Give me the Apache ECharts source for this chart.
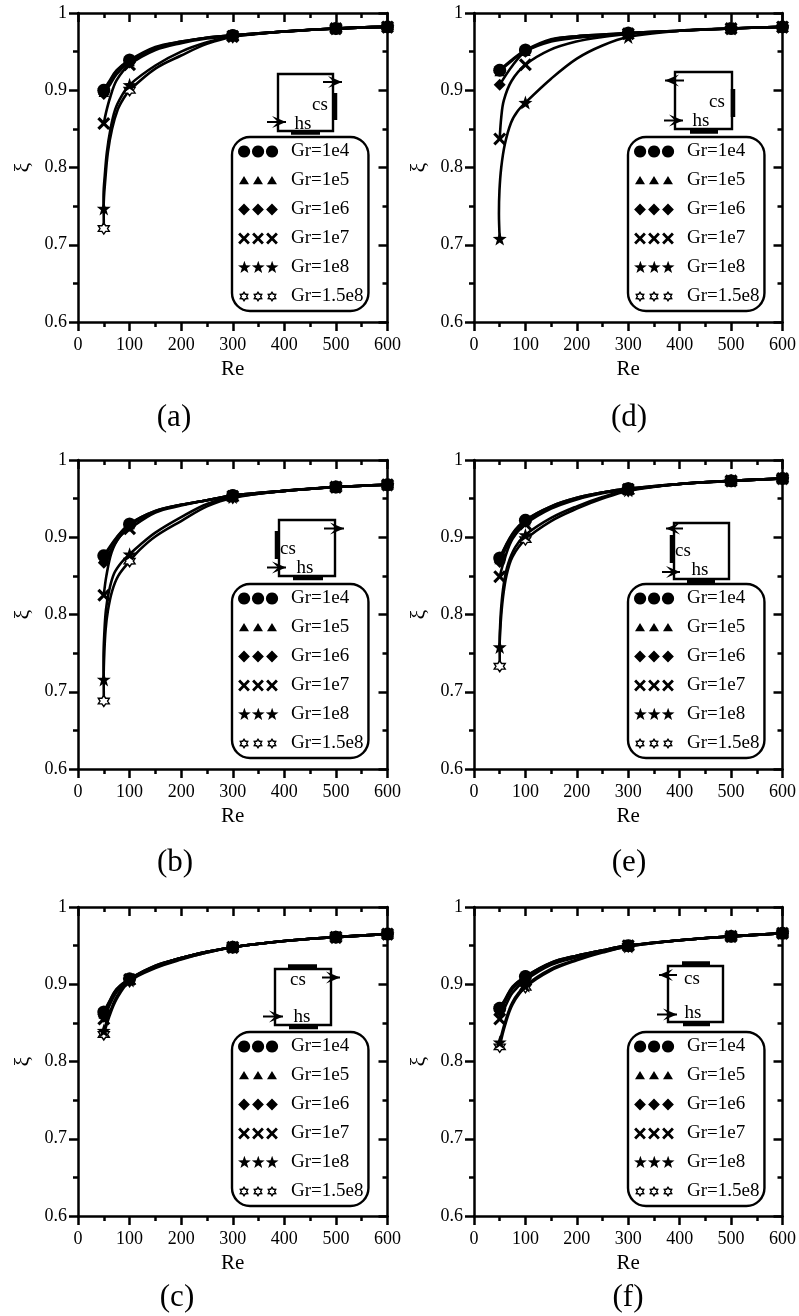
<!DOCTYPE html>
<html><head><meta charset="utf-8">
<style>html,body{margin:0;padding:0;background:#fff}#c{width:799px;height:1316px}</style>
<script src="https://cdn.jsdelivr.net/npm/echarts@6/dist/echarts.min.js"></script>
</head><body><div id="c"></div>
<script>
const seriesNames = ['Gr=1e4','Gr=1e5','Gr=1e6','Gr=1e7','Gr=1e8','Gr=1.5e8'];
const panelLabels = ['(a)','(d)','(b)','(e)','(c)','(f)'];
const markerRe = [50,100,300,500,600];

// (a)
const a1 = [[50,.900],[60,.911],[75,.926],[100,.939],[150,.956],[200,.963],[250,.968],[300,.971],[400,.976],[500,.980],[600,.982]];
const a2 = [[50,.898],[60,.909],[75,.925],[100,.938],[150,.955],[200,.963],[250,.968],[300,.971],[400,.976],[500,.980],[600,.982]];
const a3 = [[50,.895],[60,.905],[75,.921],[100,.936],[150,.954],[200,.962],[250,.968],[300,.971],[400,.976],[500,.980],[600,.982]];
const a4 = [[50,.857],[55,.873],[62,.890],[75,.913],[100,.933],[150,.952],[200,.961],[250,.967],[300,.970],[400,.976],[500,.980],[600,.982]];
const a5 = [[50,.747],[49.6,.765],[52,.790],[56,.820],[63,.850],[72,.875],[85,.893],[100,.907],[150,.932],[200,.950],[250,.962],[300,.970],[400,.976],[500,.980],[600,.982]];
const a6 = [[50,.721],[49.8,.750],[53,.785],[58,.820],[66,.850],[77,.875],[88,.889],[100,.900],[150,.928],[200,.945],[250,.960],[300,.969],[400,.976],[500,.980],[600,.982]];
// (d)
const d1 = [[50,.926],[75,.940],[100,.952],[150,.966],[200,.970],[250,.972],[300,.974],[400,.977],[500,.980],[600,.982]];
const d2 = [[50,.925],[75,.939],[100,.951],[150,.965],[200,.970],[250,.972],[300,.974],[400,.977],[500,.980],[600,.982]];
const d3 = [[50,.907],[75,.932],[100,.950],[150,.963],[200,.968],[250,.971],[300,.974],[400,.977],[500,.980],[600,.982]];
const d4 = [[50,.837],[53,.865],[58,.887],[73,.912],[100,.933],[147,.952],[199,.963],[250,.969],[300,.973],[400,.977],[500,.980],[600,.982]];
const d5 = [[50,.708],[48.5,.740],[49.5,.770],[53,.800],[60,.830],[72,.858],[85,.873],[100,.884],[150,.915],[200,.941],[250,.958],[300,.969],[400,.977],[500,.980],[600,.982]];
const d6 = [];
// (b)
const b1 = [[50,.876],[75,.900],[100,.917],[150,.934],[200,.942],[250,.948],[300,.954],[400,.960],[500,.965],[600,.968]];
const b2 = [[50,.874],[75,.899],[100,.917],[150,.934],[200,.942],[250,.948],[300,.954],[400,.960],[500,.965],[600,.968]];
const b3 = [[50,.867],[75,.895],[100,.915],[150,.933],[200,.942],[250,.948],[300,.954],[400,.960],[500,.965],[600,.968]];
const b4 = [[50,.825],[55,.850],[65,.880],[80,.900],[100,.911],[150,.932],[200,.941],[250,.948],[300,.953],[400,.960],[500,.965],[600,.968]];
const b5 = [[50,.716],[49.5,.745],[51,.775],[54,.805],[60,.830],[70,.853],[85,.868],[100,.878],[120,.890],[150,.906],[200,.926],[250,.943],[300,.952],[400,.960],[500,.965],[600,.968]];
const b6 = [[50,.688],[49.8,.720],[51,.750],[53.5,.780],[58,.805],[66,.830],[78,.850],[100,.869],[120,.884],[150,.901],[200,.921],[250,.940],[300,.951],[400,.960],[500,.965],[600,.968]];
// (e)
const e1 = [[50,.873],[75,.905],[100,.922],[150,.940],[200,.951],[250,.958],[300,.963],[400,.969],[500,.973],[600,.976]];
const e2 = [[50,.872],[75,.904],[100,.922],[150,.940],[200,.951],[250,.958],[300,.963],[400,.969],[500,.973],[600,.976]];
const e3 = [[50,.868],[75,.902],[100,.920],[150,.939],[200,.950],[250,.958],[300,.962],[400,.969],[500,.973],[600,.976]];
const e4 = [[50,.849],[60,.873],[75,.898],[100,.917],[150,.937],[200,.949],[250,.957],[300,.962],[400,.969],[500,.973],[600,.976]];
const e5 = [[50,.758],[50.5,.780],[53,.810],[58,.840],[66,.865],[80,.887],[100,.903],[150,.925],[200,.940],[250,.952],[300,.961],[400,.969],[500,.973],[600,.976]];
const e6 = [[50,.733],[49.9,.760],[52,.790],[56,.820],[63,.850],[75,.875],[100,.897],[150,.921],[200,.937],[250,.950],[300,.960],[400,.969],[500,.973],[600,.976]];
// (c)
const c1 = [[50,.864],[60,.877],[75,.894],[100,.907],[150,.924],[200,.934],[250,.942],[300,.948],[400,.956],[500,.961],[600,.965]];
const c2 = [[50,.862],[60,.876],[75,.893],[100,.907],[150,.924],[200,.934],[250,.942],[300,.948],[400,.956],[500,.961],[600,.965]];
const c3 = [[50,.858],[60,.873],[75,.891],[100,.906],[150,.923],[200,.934],[250,.942],[300,.948],[400,.956],[500,.961],[600,.965]];
const c4 = [[50,.855],[60,.871],[75,.890],[100,.906],[150,.923],[200,.934],[250,.942],[300,.948],[400,.956],[500,.961],[600,.965]];
const c5 = [[50,.840],[60,.860],[75,.884],[100,.905],[150,.922],[200,.933],[250,.941],[300,.948],[400,.956],[500,.961],[600,.965]];
const c6 = [[50,.835],[60,.857],[75,.881],[100,.904],[150,.921],[200,.932],[250,.941],[300,.948],[400,.956],[500,.961],[600,.965]];
// (f)
const f1 = [[50,.869],[60,.880],[75,.897],[100,.910],[150,.928],[200,.937],[250,.944],[300,.950],[400,.957],[500,.962],[600,.966]];
const f2 = [[50,.868],[60,.879],[75,.896],[100,.910],[150,.928],[200,.937],[250,.944],[300,.950],[400,.957],[500,.962],[600,.966]];
const f3 = [[50,.865],[60,.877],[75,.894],[100,.908],[150,.927],[200,.937],[250,.944],[300,.950],[400,.957],[500,.962],[600,.966]];
const f4 = [[50,.855],[60,.870],[75,.889],[100,.905],[150,.925],[200,.935],[250,.943],[300,.950],[400,.957],[500,.962],[600,.966]];
const f5 = [[50,.825],[60,.850],[75,.877],[100,.898],[150,.920],[200,.932],[250,.942],[300,.949],[400,.957],[500,.962],[600,.966]];
const f6 = [[50,.819],[60,.846],[75,.874],[100,.896],[150,.918],[200,.931],[250,.941],[300,.949],[400,.957],[500,.962],[600,.966]];

const panelData = [[a1,a2,a3,a4,a5,a6],[d1,d2,d3,d4,d5,d6],[b1,b2,b3,b4,b5,b6],[e1,e2,e3,e4,e5,e6],[c1,c2,c3,c4,c5,c6],[f1,f2,f3,f4,f5,f6]];

// ---------- layout and style ----------
const FONT = '"Liberation Serif","Times New Roman",serif';
const INK = '#000';
const layout = [
 {l:78,  t:13,  lab:[174,417],  leg:[232,137]},
 {l:474, t:13,  lab:[629,417],  leg:[628,137]},
 {l:78,  t:460, lab:[175,862],  leg:[232,584]},
 {l:474, t:460, lab:[629,862],  leg:[628,584]},
 {l:78,  t:907, lab:[177,1297], leg:[232,1032]},
 {l:474, t:907, lab:[628,1297], leg:[628,1032]}
];
const W = 309.5, H = 309;

function poly(pts, rev){
  const p = rev ? pts.slice().reverse() : pts;
  return 'M' + p.map(q => q[0].toFixed(2)+' '+q[1].toFixed(2)).join('L') + 'Z';
}
function radial(cx,cy,n,radii,rot){
  const pts=[];
  for(let i=0;i<n;i++){
    const a=(rot||0)+i*2*Math.PI/n, r=radii[i%radii.length];
    pts.push([cx+r*Math.sin(a),cy-r*Math.cos(a)]);
  }
  return pts;
}
const shapes = {
  circle:(x,y)=>poly(radial(x,y,20,[6.1])),
  tri:(x,y)=>poly([[x,y-4.6],[x+5,y+3.8],[x-5,y+3.8]]),
  dia:(x,y)=>poly(radial(x,y,4,[5.9])),
  cross:(x,y)=>{const a=5.9,b=2;return poly([[x-a,y-a+b],[x-a+b,y-a],[x,y-b],[x+a-b,y-a],[x+a,y-a+b],[x+b,y],[x+a,y+a-b],[x+a-b,y+a],[x,y+b],[x-a+b,y+a],[x-a,y+a-b],[x-b,y]]);},
  star:(x,y)=>poly(radial(x,y,10,[6.8,2.7])),
  hex:(x,y)=>poly(radial(x,y,12,[5.6,3.4]))+poly(radial(x,y,12,[3.0,1.8]),true)
};
const shapeKeys=['circle','tri','dia','cross','star','hex'];
const seriesSymbol = shapeKeys.map(k => 'path://'+(k==='hex'?poly(radial(0,0,12,[5.4,3.2])):shapes[k](0,0)));
const seriesSizes = [13,10.5,12,13,14,11];
const legendIcon = shapeKeys.map(k => {
  const ext='M0 0h.01v.01zM48 14h.01v.01z';
  return 'path://'+ext+[6,20,34].map(x=>shapes[k](x,7)).join('');
});

const grid=[],xAxis=[],yAxis=[],series=[],legend=[],title=[];
const AXW=2.5;
const tickCommon = {lineStyle:{color:INK,width:AXW}};
function axisBase(extra){
  return Object.assign({type:'value',silent:true,splitLine:{show:false},
    axisLine:{show:true,onZero:false,lineStyle:{color:INK,width:AXW}}},extra);
}
layout.forEach((p,i)=>{
  grid.push({left:p.l,top:p.t,width:W,height:H,show:false});
  const xc={min:0,max:600,interval:100,minorSplitLine:{show:false}};
  const yc={min:0.6,max:1,interval:0.1,minorSplitLine:{show:false}};
  xAxis.push(axisBase(Object.assign({},xc,{gridIndex:i,position:'bottom',name:'Re',nameLocation:'middle',nameGap:37,
    nameTextStyle:{fontFamily:FONT,fontSize:21,color:INK},
    axisTick:{length:9,...tickCommon},minorTick:{show:true,splitNumber:2,length:5,...tickCommon},
    axisLabel:{fontFamily:FONT,fontSize:18,color:INK,margin:14,hideOverlap:false,showMinLabel:true,showMaxLabel:true}})));
  xAxis.push(axisBase(Object.assign({},xc,{gridIndex:i,position:'top',
    axisTick:{inside:true,length:9,...tickCommon},minorTick:{show:true,splitNumber:2,length:5,...tickCommon},
    axisLabel:{show:false}})));
  yAxis.push(axisBase(Object.assign({},yc,{gridIndex:i,position:'left',name:'\u03BE',nameLocation:'middle',nameGap:44,nameRotate:90,
    nameTextStyle:{fontFamily:FONT,fontSize:22,color:INK},
    axisTick:{length:9,...tickCommon},minorTick:{show:true,splitNumber:2,length:5,...tickCommon},
    axisLabel:{fontFamily:FONT,fontSize:18,color:INK,margin:11,showMinLabel:true,showMaxLabel:true}})));
  yAxis.push(axisBase(Object.assign({},yc,{gridIndex:i,position:'right',
    axisTick:{inside:true,length:9,...tickCommon},minorTick:{show:true,splitNumber:2,length:5,...tickCommon},
    axisLabel:{show:false}})));
  panelData[i].forEach((d,k)=>{
    series.push({
      name:seriesNames[k],type:'line',xAxisIndex:i*2,yAxisIndex:i*2,data:d,
      smooth:0.35,showAllSymbol:true,showSymbol:true,clip:false,animation:false,silent:true,z:9-k,
      symbol:v=>markerRe.includes(v[0])?seriesSymbol[k]:'none',
      symbolSize:seriesSizes[k],
      lineStyle:{color:INK,width:2.6},
      itemStyle:k===5?{color:'#fff',borderColor:INK,borderWidth:1.4,opacity:1}:{color:INK,borderWidth:0,opacity:1}
    });
  });
  legend.push({
    left:p.leg[0],top:p.leg[1],orient:'vertical',align:'left',selectedMode:false,
    padding:[5,5,5,6],itemGap:10,itemWidth:48,itemHeight:14,symbolKeepAspect:true,
    borderColor:INK,borderWidth:2.4,borderRadius:18,backgroundColor:'#fff',z:10,
    itemStyle:{color:INK,borderWidth:0,opacity:1},lineStyle:{width:0},
    textStyle:{fontFamily:FONT,fontSize:19,color:INK,lineHeight:14},
    data:seriesNames.map((n,k)=>({name:n,icon:legendIcon[k]}))
  });
  title.push({text:panelLabels[i],left:p.lab[0],top:p.lab[1]-15,textAlign:'center',padding:0,
    textStyle:{fontFamily:FONT,fontSize:31,fontWeight:'normal',color:INK}});
});

// ---------- schematic insets (decoration, pixel placed) ----------
const schematics = [
 {box:[278,74,333,131],bars:[[291,132.5,320,132.5],[335,93,335,120]],arrows:[[323,82,342,82],[267,122,286,122]],cs:[320,105],hs:[303,124]},
 {box:[675,72,732,129],bars:[[690,131.5,718,131.5],[733,89,733,117]],arrows:[[684,80.5,665,80.5],[664,120.5,683,120.5]],cs:[717,102],hs:[701,121]},
 {box:[279,520,335,576],bars:[[293,578,323,578],[277,531,277,559]],arrows:[[324,528.5,344,528.5],[267,567.5,286,567.5]],cs:[288,549],hs:[305,568]},
 {box:[674,523,729,579],bars:[[687,581,715,581],[672,535,672,563]],arrows:[[683,528.5,666,528.5],[662,572,680,572]],cs:[683,551],hs:[700,570.5]},
 {box:[275,969,331,1025],bars:[[288,966.5,317,966.5],[289,1027,318,1027]],arrows:[[322,977.5,340,977.5],[263,1016.5,283,1016.5]],cs:[298,980],hs:[302,1017]},
 {box:[668,966,723,1022],bars:[[682,963.5,710,963.5],[683,1024,710,1024]],arrows:[[677,975,659,975],[657,1014.5,677,1014.5]],cs:[692,979],hs:[693,1013.5]}
];
const graphic=[];
const seg=(a,b,c,d,w)=>({type:'line',silent:true,z:20,shape:{x1:a,y1:b,x2:c,y2:d},style:{stroke:INK,lineWidth:w}});
schematics.forEach(s=>{
  const [x0,y0,x1,y1]=s.box;
  graphic.push({type:'rect',silent:true,z:20,shape:{x:x0,y:y0,width:x1-x0,height:y1-y0},style:{fill:'none',stroke:INK,lineWidth:2.4}});
  s.bars.forEach(b=>graphic.push(seg(b[0],b[1],b[2],b[3],4.5)));
  s.arrows.forEach(a=>{
    graphic.push(seg(a[0],a[1],a[2],a[3],2));
    const dir=Math.sign(a[2]-a[0]),t=a[2],y=a[1];
    graphic.push({type:'polygon',silent:true,z:20,shape:{points:[[t,y],[t-dir*14,y-6],[t-dir*8,y],[t-dir*14,y+6]]},style:{fill:INK}});
  });
  [['cs',s.cs],['hs',s.hs]].forEach(([t,q])=>graphic.push({type:'text',silent:true,z:20,x:q[0],y:q[1],
    style:{text:t,fontFamily:FONT,fontSize:19,fill:INK,align:'center',verticalAlign:'middle'}}));
});

const chart=echarts.init(document.getElementById('c'),null,{renderer:'canvas'});
chart.setOption({animation:false,backgroundColor:'#fff',title,grid,xAxis,yAxis,legend,series,graphic});
</script></body></html>
